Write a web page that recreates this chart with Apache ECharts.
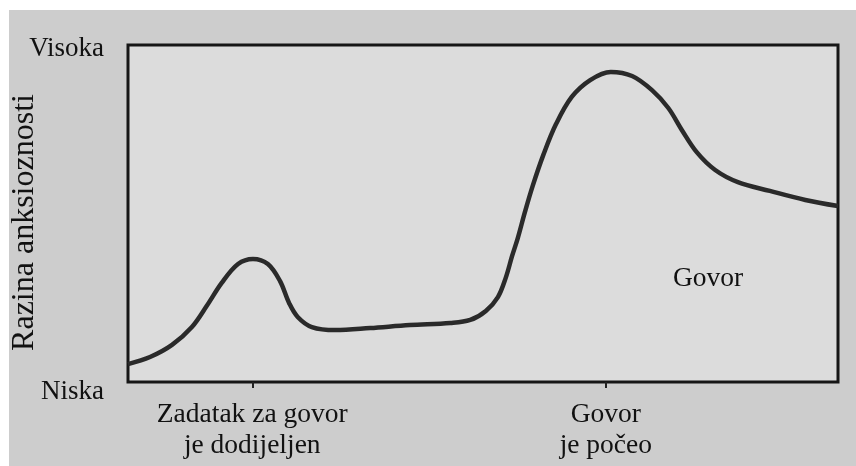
<!DOCTYPE html>
<html>
<head>
<meta charset="utf-8">
<script src="https://cdn.jsdelivr.net/npm/echarts@6/dist/echarts.min.js"></script>
<style>
  html, body { margin: 0; padding: 0; background: #ffffff; width: 856px; height: 466px; overflow: hidden; }
  #chart { position: absolute; left: 9px; top: 10px; width: 847px; height: 456px; background: #cdcdcd; }
</style>
</head>
<body>
<div id="chart"></div>
<script>
// ---- data ----
const timeX = [0, 3.1, 6.2, 9.0, 11.1, 13.2, 15.5, 17.6, 19.7, 21.4, 22.7, 23.9, 25.9, 29.2, 34.1, 39.7, 45.4, 48.2, 50.4, 52.1, 53.2, 54.1, 54.9, 55.9, 57.0, 58.5, 60.3, 62.5, 65.1, 68.0, 71.0, 73.8, 76.1, 78.0, 80.1, 82.7, 85.9, 90.4, 95.4, 100];
const anxietyY = [5.3, 7.4, 11.0, 16.3, 22.6, 29.4, 35.0, 36.5, 35.0, 30.0, 23.4, 19.3, 16.3, 15.4, 16.0, 16.9, 17.5, 18.4, 21.1, 25.2, 30.9, 37.4, 42.7, 50.4, 58.2, 67.4, 76.6, 84.6, 89.6, 92.0, 90.8, 86.6, 81.3, 74.8, 68.2, 62.9, 59.3, 56.7, 54.0, 52.2];
const eventPositions = [17.5, 67.3];
const eventLabels = ['Zadatak za govor\nje dodijeljen', 'Govor\nje počeo'];
const levelValues = [0, 100];
const levelLabels = ['Niska', 'Visoka'];
const yAxisTitle = 'Razina anksioznosti';
const annotationText = 'Govor';
const annotationPos = [81.7, 30.6];

const points = timeX.map((x, i) => [x, anxietyY[i]]);
const FONT = "'Liberation Serif', 'Times New Roman', 'DejaVu Serif', serif";

const chart = echarts.init(document.getElementById('chart'));
chart.setOption({
  backgroundColor: '#cdcdcd',
  animation: false,
  grid: {
    left: 119, right: 18, top: 35, bottom: 84,
    outerBoundsMode: 'none', containLabel: false,
    show: true, backgroundColor: '#dcdcdc',
    borderColor: '#161616', borderWidth: 3
  },
  xAxis: {
    type: 'value', min: 0, max: 100,
    splitLine: { show: false },
    axisLine: { show: false },
    axisTick: {
      show: true, customValues: eventPositions, length: 6, inside: false,
      lineStyle: { color: '#222', width: 2 }
    },
    axisLabel: {
      customValues: eventPositions,
      formatter: v => {
        const i = eventPositions.indexOf(v);
        return i >= 0 ? eventLabels[i] : '';
      },
      fontFamily: FONT, fontSize: 27.5, color: '#111', lineHeight: 31, margin: 17
    }
  },
  yAxis: {
    type: 'value', min: 0, max: 100, interval: 100,
    splitLine: { show: false },
    axisLine: { show: false },
    axisTick: { show: false },
    name: yAxisTitle, nameLocation: 'middle', nameRotate: 90, nameGap: 87,
    nameMoveOverlap: false,
    nameTextStyle: { fontFamily: FONT, fontSize: 32, color: '#111', padding: [0, 18, 0, 0] },
    axisLabel: {
      formatter: v => {
        const i = levelValues.indexOf(v);
        if (i < 0) return '';
        return i === 0 ? '{lo|' + levelLabels[i] + '}' : '{hi|' + levelLabels[i] + '}';
      },
      margin: 24,
      rich: {
        lo: { fontFamily: FONT, fontSize: 27, color: '#111', padding: [20, 0, 0, 0] },
        hi: { fontFamily: FONT, fontSize: 27, color: '#111', padding: [8, 0, 0, 0] }
      }
    }
  },
  series: [{
    type: 'line',
    data: points,
    smooth: 0.35,
    showSymbol: false,
    symbol: 'none',
    lineStyle: { color: '#2a2a2a', width: 4.5 },
    markPoint: {
      symbol: 'rect', symbolSize: 1,
      itemStyle: { color: 'rgba(0,0,0,0)' },
      label: {
        show: true, position: 'inside', formatter: annotationText,
        fontFamily: FONT, fontSize: 27.5, color: '#111'
      },
      data: [{ coord: annotationPos }]
    }
  }]
});
</script>
</body>
</html>
